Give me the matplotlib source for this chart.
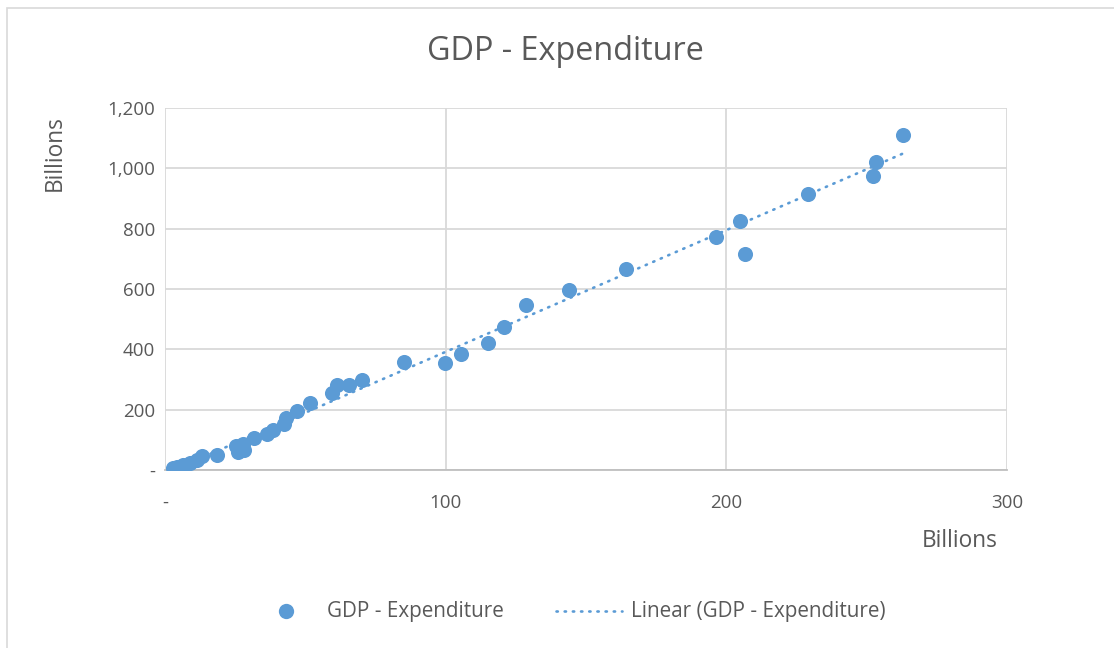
import numpy as np
import matplotlib
matplotlib.use("Agg")
import matplotlib.pyplot as plt
from matplotlib.lines import Line2D
from matplotlib.patches import Rectangle
from matplotlib.ticker import FuncFormatter

plt.rcParams['font.family'] = ['Open Sans', 'DejaVu Sans']

# Data (billions)
x_vals = [2.8, 4.3, 6.4, 8.9, 11.4, 13.2, 18.5, 26.0, 28.1, 27.8, 25.3, 31.7, 36.3, 38.5,
          42.4, 43.1, 47.0, 51.7, 59.5, 61.3, 65.5, 70.2, 85.1, 99.8, 105.5, 115.0, 120.8,
          128.6, 143.9, 164.2, 196.3, 204.8, 206.6, 229.0, 252.2, 253.3, 263.0]
y_vals = [7, 10, 17, 23, 33, 46, 50, 60, 66, 86, 80, 106, 119, 133,
          152, 172, 196, 222, 255, 282, 282, 298, 358, 355, 384, 421, 474,
          547, 597, 666, 772, 825, 716, 915, 974, 1021, 1110]
x_ticks = [0, 100, 200, 300]
y_ticks = [0, 200, 400, 600, 800, 1000, 1200]
series_name = 'GDP - Expenditure'
trend_name = 'Linear (GDP - Expenditure)'

BLUE = '#5B9BD5'
TXT = '#595959'
W, H = 1114, 648

fig = plt.figure(figsize=(W / 100, H / 100), dpi=100)
fig.patches.append(Rectangle((7 / W, -0.01), 1.0, 1 - 8 / H + 0.01, transform=fig.transFigure,
                             fill=False, edgecolor='#d9d9d9', linewidth=1.2))
ax = fig.add_axes([165 / W, 1 - 470 / H, (1007 - 165) / W, (470 - 108) / H])

ax.scatter(x_vals, y_vals, s=118, color=BLUE, linewidths=0, zorder=3)

coef = np.polyfit(x_vals, y_vals, 1)
xs = np.array([min(x_vals), max(x_vals)])
DOT = (0, (0.5, 2.6))
ax.plot(xs, np.polyval(coef, xs), color=BLUE, linewidth=1.9,
        linestyle=DOT, dash_capstyle='round', zorder=4)

ax.set_xlim(0, 300)
ax.set_ylim(0, 1200)
ax.set_xticks(x_ticks)
ax.set_yticks(y_ticks)
fmt = FuncFormatter(lambda v, p: '-' if v == 0 else f'{int(v):,}')
ax.xaxis.set_major_formatter(fmt)
ax.yaxis.set_major_formatter(fmt)
ax.tick_params(length=0, labelsize=13.5, colors=TXT)
ax.tick_params(axis='x', pad=17)
ax.tick_params(axis='y', pad=7)
ax.grid(True, color='#d9d9d9', linewidth=1.3)
ax.set_axisbelow(True)
for s in ['top', 'right', 'left']:
    ax.spines[s].set_visible(False)
ax.spines['bottom'].set_color('#bfbfbf')
ax.spines['bottom'].set_linewidth(1.3)

fig.text(565 / W, 1 - 52 / H, series_name, ha='center', va='center', fontsize=23.3, color=TXT)
fig.text(55 / W, 1 - 153 / H, 'Billions', rotation=90, ha='center', va='center', fontsize=16.3, color=TXT)
fig.text(960 / W, 1 - 541 / H, 'Billions', ha='center', va='center', fontsize=16.3, color=TXT)

# Legend (drawn manually for exact placement)
ly = 1 - 611 / H
fig.add_artist(Line2D([286 / W], [ly], marker='o', markersize=11, color=BLUE,
                      markeredgewidth=0, linestyle='none', transform=fig.transFigure))
fig.text(327 / W, ly, series_name, ha='left', va='center', fontsize=14.9, color=TXT)
fig.add_artist(Line2D([556 / W, 622 / W], [ly, ly], color=BLUE, linewidth=1.9, linestyle=DOT,
                      dash_capstyle='round', transform=fig.transFigure))
fig.text(631 / W, ly, trend_name, ha='left', va='center', fontsize=14.9, color=TXT)

fig.savefig('out.png', dpi=100)
